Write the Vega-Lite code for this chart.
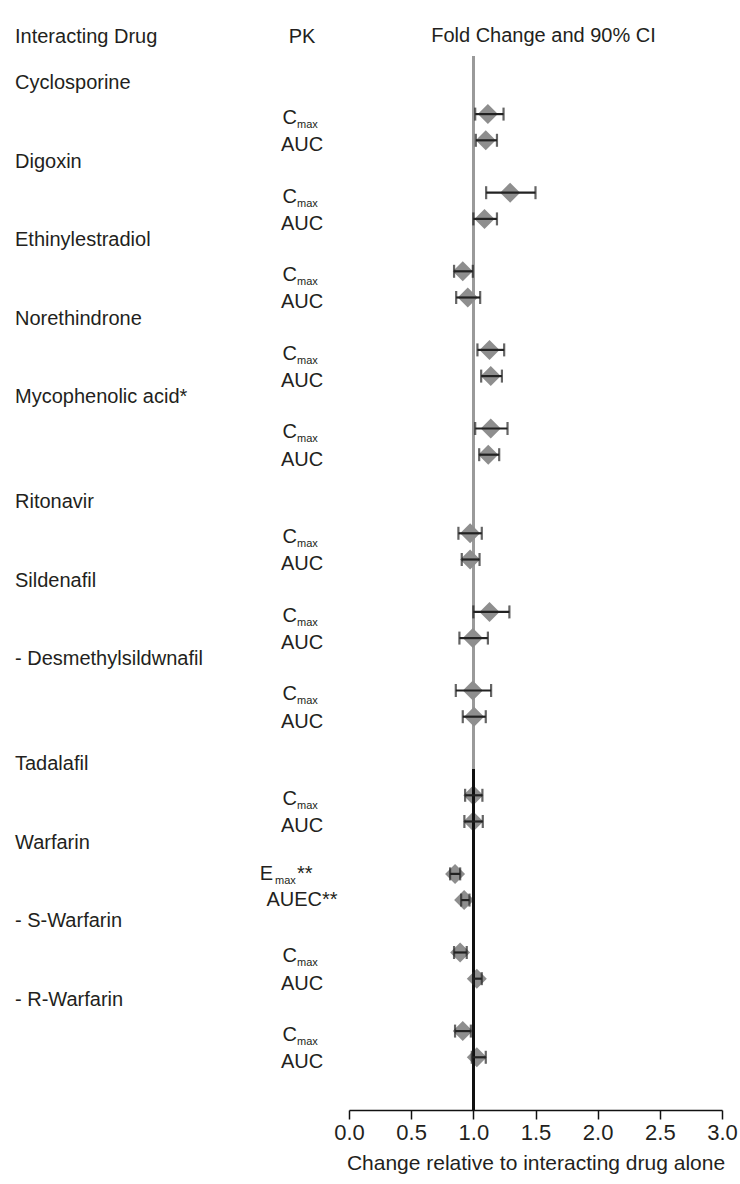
{
  "$schema": "https://vega.github.io/schema/vega-lite/v6.json",
  "padding": {"left": 15, "top": 25, "right": 0, "bottom": 5},
  "background": "white",
  "spacing": 0,
  "bounds": "flush",
  "config": {
    "view": {"stroke": null},
    "font": "Liberation Sans",
    "title": {"fontSize": 20, "fontWeight": "normal", "color": "#231f20", "offset": 9},
    "text": {"color": "#231f20", "font": "Liberation Sans"}
  },
  "datasets": {
    "names": [
      {"drug": "Cyclosporine", "row": 0},
      {"drug": "Digoxin", "row": 3},
      {"drug": "Ethinylestradiol", "row": 6},
      {"drug": "Norethindrone", "row": 9},
      {"drug": "Mycophenolic acid*", "row": 12},
      {"drug": "Ritonavir", "row": 16},
      {"drug": "Sildenafil", "row": 19},
      {"drug": "- Desmethylsildwnafil", "row": 22},
      {"drug": "Tadalafil", "row": 26},
      {"drug": "Warfarin", "row": 29},
      {"drug": "- S-Warfarin", "row": 32},
      {"drug": "- R-Warfarin", "row": 35}
    ],
    "pk": [
      {"drug": "Cyclosporine", "pk": "Cmax", "label": "C", "sub": "max", "sup": "", "row": 1, "fold": 1.117, "lo": 1.015, "hi": 1.243},
      {"drug": "Cyclosporine", "pk": "AUC", "label": "AUC", "sub": "", "sup": "", "row": 2, "fold": 1.10, "lo": 1.02, "hi": 1.19},
      {"drug": "Digoxin", "pk": "Cmax", "label": "C", "sub": "max", "sup": "", "row": 4, "fold": 1.296, "lo": 1.103, "hi": 1.50},
      {"drug": "Digoxin", "pk": "AUC", "label": "AUC", "sub": "", "sup": "", "row": 5, "fold": 1.09, "lo": 1.00, "hi": 1.19},
      {"drug": "Ethinylestradiol", "pk": "Cmax", "label": "C", "sub": "max", "sup": "", "row": 7, "fold": 0.915, "lo": 0.845, "hi": 0.996},
      {"drug": "Ethinylestradiol", "pk": "AUC", "label": "AUC", "sub": "", "sup": "", "row": 8, "fold": 0.955, "lo": 0.862, "hi": 1.055},
      {"drug": "Norethindrone", "pk": "Cmax", "label": "C", "sub": "max", "sup": "", "row": 10, "fold": 1.13, "lo": 1.033, "hi": 1.248},
      {"drug": "Norethindrone", "pk": "AUC", "label": "AUC", "sub": "", "sup": "", "row": 11, "fold": 1.14, "lo": 1.063, "hi": 1.23},
      {"drug": "Mycophenolic acid*", "pk": "Cmax", "label": "C", "sub": "max", "sup": "", "row": 13, "fold": 1.14, "lo": 1.015, "hi": 1.275},
      {"drug": "Mycophenolic acid*", "pk": "AUC", "label": "AUC", "sub": "", "sup": "", "row": 14, "fold": 1.12, "lo": 1.047, "hi": 1.208},
      {"drug": "Ritonavir", "pk": "Cmax", "label": "C", "sub": "max", "sup": "", "row": 17, "fold": 0.974, "lo": 0.88, "hi": 1.068},
      {"drug": "Ritonavir", "pk": "AUC", "label": "AUC", "sub": "", "sup": "", "row": 18, "fold": 0.974, "lo": 0.907, "hi": 1.05},
      {"drug": "Sildenafil", "pk": "Cmax", "label": "C", "sub": "max", "sup": "", "row": 20, "fold": 1.13, "lo": 1.0, "hi": 1.29},
      {"drug": "Sildenafil", "pk": "AUC", "label": "AUC", "sub": "", "sup": "", "row": 21, "fold": 0.996, "lo": 0.888, "hi": 1.117},
      {"drug": "- Desmethylsildwnafil", "pk": "Cmax", "label": "C", "sub": "max", "sup": "", "row": 23, "fold": 0.996, "lo": 0.859, "hi": 1.143},
      {"drug": "- Desmethylsildwnafil", "pk": "AUC", "label": "AUC", "sub": "", "sup": "", "row": 24, "fold": 1.006, "lo": 0.915, "hi": 1.10},
      {"drug": "Tadalafil", "pk": "Cmax", "label": "C", "sub": "max", "sup": "", "row": 27, "fold": 1.0, "lo": 0.934, "hi": 1.073},
      {"drug": "Tadalafil", "pk": "AUC", "label": "AUC", "sub": "", "sup": "", "row": 28, "fold": 1.0, "lo": 0.928, "hi": 1.076},
      {"drug": "Warfarin", "pk": "Emax", "label": "E", "sub": "max", "sup": "**", "row": 30, "fold": 0.853, "lo": 0.813, "hi": 0.894},
      {"drug": "Warfarin", "pk": "AUEC", "label": "AUEC**", "sub": "", "sup": "", "row": 31, "fold": 0.926, "lo": 0.902, "hi": 0.969},
      {"drug": "- S-Warfarin", "pk": "Cmax", "label": "C", "sub": "max", "sup": "", "row": 33, "fold": 0.894, "lo": 0.845, "hi": 0.947},
      {"drug": "- S-Warfarin", "pk": "AUC", "label": "AUC", "sub": "", "sup": "", "row": 34, "fold": 1.028, "lo": 1.0, "hi": 1.068},
      {"drug": "- R-Warfarin", "pk": "Cmax", "label": "C", "sub": "max", "sup": "", "row": 36, "fold": 0.915, "lo": 0.853, "hi": 0.98},
      {"drug": "- R-Warfarin", "pk": "AUC", "label": "AUC", "sub": "", "sup": "", "row": 37, "fold": 1.028, "lo": 0.988, "hi": 1.10}
    ]
  },
  "hconcat": [
    {
      "width": 240,
      "height": 1054,
      "title": {"text": "Interacting Drug", "anchor": "start"},
      "data": {"name": "names"},
      "mark": {"type": "text", "align": "left", "baseline": "middle", "fontSize": 20, "dy": -5},
      "encoding": {
        "x": {"datum": 0, "type": "quantitative", "scale": {"domain": [0, 1]}, "axis": null},
        "y": {"field": "row", "type": "ordinal", "scale": {"type": "point", "domain": [0,1,2,3,4,5,6,7,8,9,10,11,12,13,14,15,16,17,18,19,20,21,22,23,24,25,26,27,28,29,30,31,32,33,34,35,36,37,38,39], "padding": 0.615, "align": 0.99}, "axis": null},
        "text": {"field": "drug"}
      }
    },
    {
      "width": 94,
      "height": 1054,
      "title": {"text": "PK", "anchor": "middle"},
      "data": {"name": "pk"},
      "encoding": {
        "x": {"datum": 0.5, "type": "quantitative", "scale": {"domain": [0, 1]}, "axis": null},
        "y": {"field": "row", "type": "ordinal", "scale": {"type": "point", "domain": [0,1,2,3,4,5,6,7,8,9,10,11,12,13,14,15,16,17,18,19,20,21,22,23,24,25,26,27,28,29,30,31,32,33,34,35,36,37,38,39], "padding": 0.615, "align": 0.99}, "axis": null}
      },
      "layer": [
        {
          "transform": [{"filter": "datum.pk === 'AUC'"}],
          "mark": {"type": "text", "align": "center", "baseline": "middle", "fontSize": 20, "dy": 5},
          "encoding": {"text": {"field": "label"}}
        },
        {
          "transform": [{"filter": "datum.pk === 'AUEC'"}],
          "mark": {"type": "text", "align": "center", "baseline": "middle", "fontSize": 20, "dy": 0},
          "encoding": {"text": {"field": "label"}}
        },
        {
          "transform": [{"filter": "datum.pk === 'Cmax'"}],
          "mark": {"type": "text", "align": "right", "baseline": "middle", "fontSize": 20, "dx": -5, "dy": 4},
          "encoding": {"text": {"field": "label"}}
        },
        {
          "transform": [{"filter": "datum.pk === 'Cmax'"}],
          "mark": {"type": "text", "align": "left", "baseline": "middle", "fontSize": 11, "dx": -5, "dy": 11},
          "encoding": {"text": {"field": "sub"}}
        },
        {
          "transform": [{"filter": "datum.pk === 'Emax'"}],
          "mark": {"type": "text", "align": "right", "baseline": "middle", "fontSize": 20, "dx": -29, "dy": 0},
          "encoding": {"text": {"field": "label"}}
        },
        {
          "transform": [{"filter": "datum.pk === 'Emax'"}],
          "mark": {"type": "text", "align": "left", "baseline": "middle", "fontSize": 11, "dx": -27, "dy": 7},
          "encoding": {"text": {"field": "sub"}}
        },
        {
          "transform": [{"filter": "datum.pk === 'Emax'"}],
          "mark": {"type": "text", "align": "left", "baseline": "middle", "fontSize": 20, "dx": -5, "dy": 0},
          "encoding": {"text": {"field": "sup"}}
        }
      ]
    },
    {
      "width": 373,
      "height": 1054,
      "title": {"text": "Fold Change and 90% CI", "anchor": "middle", "dx": 8},
      "data": {"name": "pk"},
      "layer": [
        {
          "mark": {"type": "rule", "color": "#9a9a9a", "strokeWidth": 2.6},
          "encoding": {"x": {"datum": 1, "type": "quantitative", "title": "Change relative to interacting drug alone"}}
        },
        {
          "mark": {"type": "point", "shape": "diamond", "filled": true, "size": 400, "color": "#8e8e8e", "opacity": 1},
          "encoding": {
            "x": {"field": "fold", "type": "quantitative", "title": "Change relative to interacting drug alone",
                  "scale": {"domain": [0, 3], "nice": false, "zero": false},
                  "axis": {"values": [0, 0.5, 1, 1.5, 2, 2.5, 3], "format": ".1f", "grid": false,
                           "labelFontSize": 22, "titleFontSize": 21, "titleFontWeight": "normal",
                           "labelColor": "#231f20", "titleColor": "#231f20",
                           "tickSize": 9, "tickWidth": 1.5, "tickColor": "#111111",
                           "domainWidth": 1.5, "domainColor": "#111111",
                           "labelPadding": 3, "titlePadding": 9, "labelFlush": false}},
            "y": {"field": "row", "type": "ordinal", "scale": {"type": "point", "domain": [0,1,2,3,4,5,6,7,8,9,10,11,12,13,14,15,16,17,18,19,20,21,22,23,24,25,26,27,28,29,30,31,32,33,34,35,36,37,38,39], "padding": 0.615, "align": 0.99}, "axis": null}
          }
        },
        {
          "mark": {"type": "rule", "color": "#111111", "strokeWidth": 2},
          "encoding": {
            "x": {"datum": 1, "type": "quantitative", "title": "Change relative to interacting drug alone"},
            "y": {"datum": 26, "type": "ordinal"},
            "y2": {"datum": 39}
          }
        },
        {
          "mark": {"type": "rule", "color": "#222222", "strokeWidth": 2.2},
          "encoding": {
            "x": {"field": "lo", "type": "quantitative", "title": "Change relative to interacting drug alone"},
            "x2": {"field": "hi"},
            "y": {"field": "row", "type": "ordinal"}
          }
        },
        {
          "mark": {"type": "tick", "color": "#222222", "thickness": 2.2, "size": 13, "orient": "vertical"},
          "encoding": {
            "x": {"field": "lo", "type": "quantitative", "title": "Change relative to interacting drug alone"},
            "y": {"field": "row", "type": "ordinal"}
          }
        },
        {
          "mark": {"type": "tick", "color": "#222222", "thickness": 2.2, "size": 13, "orient": "vertical"},
          "encoding": {
            "x": {"field": "hi", "type": "quantitative", "title": "Change relative to interacting drug alone"},
            "y": {"field": "row", "type": "ordinal"}
          }
        }
      ]
    }
  ]
}
